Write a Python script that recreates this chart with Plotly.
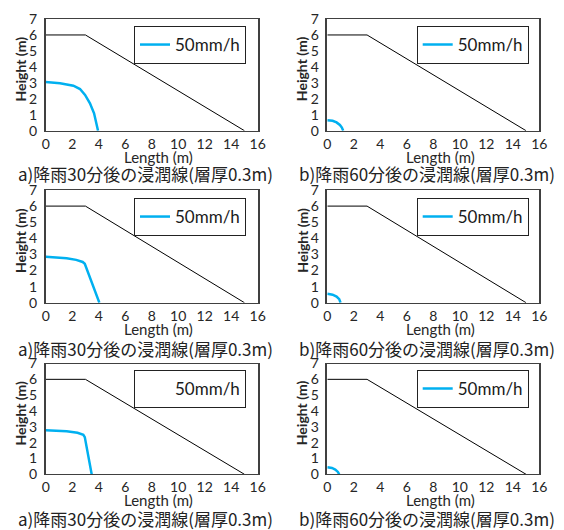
import plotly.graph_objects as go

W, H = 564, 530

# ---- data ----
slope_x = [0, 3, 15]
slope_y = [6, 6, 0]

p1_x = [0, 1.08, 2.09, 2.59, 2.97, 3.34, 3.65, 3.82, 3.95]
p1_y = [3.05, 2.97, 2.82, 2.61, 2.24, 1.72, 1.09, 0.55, 0]
p2_x = [0, 0.4, 0.7, 0.95, 1.1, 1.2]
p2_y = [0.65, 0.62, 0.52, 0.36, 0.2, 0]
p3_x = [0, 1.58, 2.3, 2.79, 2.95, 4.05]
p3_y = [2.86, 2.76, 2.66, 2.53, 2.42, 0]
p4_x = [0, 0.4, 0.7, 0.9, 1.0]
p4_y = [0.55, 0.5, 0.38, 0.22, 0]
p5_x = [0, 1.58, 2.4, 2.84, 2.95, 3.47]
p5_y = [2.78, 2.72, 2.62, 2.5, 2.35, 0]
p6_x = [0, 0.35, 0.6, 0.8, 0.9]
p6_y = [0.45, 0.4, 0.3, 0.15, 0]

curves = [(p1_x, p1_y), (p2_x, p2_y), (p3_x, p3_y),
          (p4_x, p4_y), (p5_x, p5_y), (p6_x, p6_y)]
captions = ["a)降雨30分後の浸潤線(層厚0.3m)", "b)降雨60分後の浸潤線(層厚0.3m)"] * 3
series_name = "50mm/h"
x_title = "Length (m)"
y_title = "Height (m)"
x_ticks = [0, 2, 4, 6, 8, 10, 12, 14, 16]
y_ticks = [0, 1, 2, 3, 4, 5, 6, 7]

# ---- layout helpers (pixel -> paper) ----
def px_x(p):
    return p / W

def px_y(p):
    return 1 - p / H

col_px = [(45.7, 257.7), (327.3, 539.3)]
row_px = [(19, 130.7), (190, 302.7), (363.5, 474.3)]
legend_left_px = [134, 416.7]
legend_top_px = [26, 198, 370]
caption_cx = [145, 426.7]
caption_cy = [174, 348, 518]

FONT = "Lato, 'Noto Sans CJK JP', sans-serif"
BLUE = "#00B0F0"
AX = "#404040"
TXT = "#262626"

fig = go.Figure()
layout = dict(
    width=W, height=H, margin=dict(l=0, r=0, t=0, b=0, autoexpand=False),
    paper_bgcolor="white", plot_bgcolor="white",
    font=dict(family=FONT, color=TXT, size=13),
    annotations=[],
)

for i in range(6):
    r, c = divmod(i, 2)
    k = i + 1
    xa = "x" if k == 1 else f"x{k}"
    ya = "y" if k == 1 else f"y{k}"
    lg = "legend" if k == 1 else f"legend{k}"

    fig.add_trace(go.Scatter(x=slope_x, y=slope_y, mode="lines",
                             line=dict(color="black", width=1),
                             xaxis=xa, yaxis=ya, showlegend=False,
                             hoverinfo="skip"))
    cx, cy = curves[i]
    show_line_in_legend = (i != 4)
    fig.add_trace(go.Scatter(x=cx, y=cy, mode="lines", name=series_name,
                             line=dict(color=BLUE, width=2.5),
                             xaxis=xa, yaxis=ya, legend=lg,
                             showlegend=show_line_in_legend))
    if not show_line_in_legend:
        fig.add_trace(go.Scatter(x=[None], y=[None], mode="lines", name=series_name,
                                 line=dict(color="rgba(0,0,0,0)", width=2.5),
                                 xaxis=xa, yaxis=ya, legend=lg, showlegend=True))

    x0, x1 = col_px[c]
    y0, y1 = row_px[r]
    layout["xaxis" if k == 1 else f"xaxis{k}"] = dict(
        domain=[px_x(x0), px_x(x1)], anchor=ya, range=[0, 16],
        tickvals=x_ticks, showgrid=False, zeroline=False,
        showline=True, linecolor=AX, linewidth=1, mirror=True,
        ticks="", ticklen=0, ticklabelstandoff=0, tickfont=dict(size=14, color=TXT),
        automargin=False, fixedrange=True,
    )
    layout["yaxis" if k == 1 else f"yaxis{k}"] = dict(
        domain=[px_y(y1), px_y(y0)], anchor=xa, range=[0, 7],
        tickvals=y_ticks, showgrid=False, zeroline=False,
        showline=True, linecolor=AX, linewidth=1.5, mirror=True,
        ticks="", ticklen=0, ticklabelstandoff=4, tickfont=dict(size=14, color=TXT),
        automargin=False, fixedrange=True,
    )
    layout[lg] = dict(
        x=px_x(legend_left_px[c]), y=px_y(legend_top_px[r]),
        xanchor="left", yanchor="top", orientation="h",
        bordercolor="#222222", borderwidth=1, bgcolor="white",
        font=dict(size=17, color="#1a1a1a", family=FONT),
        itemwidth=30,
    )
    # axis titles
    layout["annotations"].append(dict(
        text=x_title, xref="paper", yref="paper",
        x=px_x((x0 + x1) / 2 + 7), y=px_y(156.5 + (y1 - 130.7)),
        xanchor="center", yanchor="middle", showarrow=False,
        font=dict(size=15, color=TXT, family=FONT),
    ))
    layout["annotations"].append(dict(
        text="<b>" + y_title + "</b>", xref="paper", yref="paper", textangle=-90,
        x=px_x(x0 - 25), y=px_y((y0 + y1) / 2 - 6),
        xanchor="center", yanchor="middle", showarrow=False,
        font=dict(size=14, color=TXT, family=FONT),
    ))
    layout["annotations"].append(dict(
        text=captions[i], xref="paper", yref="paper",
        x=px_x(caption_cx[c]), y=px_y(caption_cy[r]),
        xanchor="center", yanchor="middle", showarrow=False,
        font=dict(size=17, color="#222222", family="'Noto Sans CJK JP', Lato, sans-serif"),
    ))

fig.update_layout(**layout)
fig.write_html("out.html", config={"displayModeBar": False},
               post_script="document.body.style.margin='0';")
